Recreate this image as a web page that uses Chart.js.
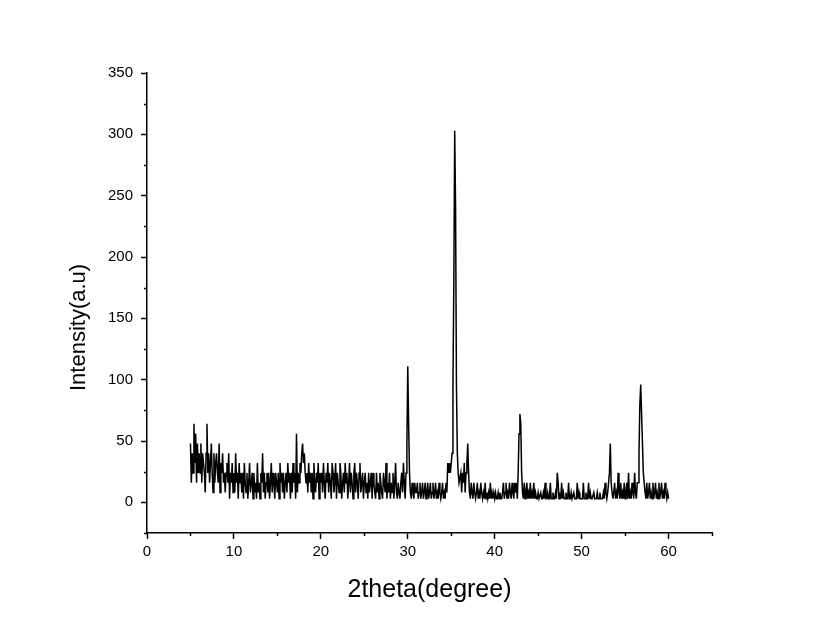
<!DOCTYPE html>
<html>
<head>
<meta charset="utf-8">
<script src="https://cdn.jsdelivr.net/npm/chart.js@4/dist/chart.umd.min.js"></script>
<style>
  html, body { margin: 0; padding: 0; background: #fff; }
  #wrap { width: 825px; height: 638px; }
</style>
</head>
<body>
<div id="wrap"><canvas id="xrd"></canvas></div>
<script>
// XRD scan: 5.0 -> 60.0 deg, step 0.1 deg
const scanStart = 5.0;
const scanStep = 0.1;

// intensity, one row per degree (5.x, 6.x, ... 59.x, 60.0)
const intensity = [
  48,16,40,24,64,32,56,16,48,24,
  40,24,48,16,40,32,24,8,40,64,
  24,40,16,32,48,24,8,40,16,32,
  40,24,16,48,8,32,24,40,16,24,
  8,24,32,16,40,3,24,16,32,8,
  24,8,40,16,24,3,32,16,24,8,
  24,3,32,16,8,24,3,16,32,8,
  16,24,3,24,8,16,3,32,8,16,
  3,24,16,40,8,24,3,16,24,8,
  24,3,16,32,8,24,16,3,24,16,
  8,24,3,32,16,24,8,24,3,16,
  24,8,32,16,24,3,24,8,32,16,
  24,3,56,8,24,16,32,24,40,48,
  32,40,24,16,24,8,32,16,24,8,
  24,3,32,16,8,24,16,32,3,24,
  16,24,8,32,16,3,24,16,32,8,
  24,16,3,32,24,8,16,32,3,24,
  16,8,32,24,3,16,24,8,32,16,
  24,3,16,32,8,24,16,3,24,32,
  8,24,16,3,24,32,8,16,24,3,
  16,24,8,16,3,24,8,16,24,3,
  24,16,8,3,24,8,16,3,24,16,
  8,3,24,16,8,32,3,16,8,24,
  3,16,8,24,3,16,32,8,3,16,
  8,3,16,24,8,32,16,3,24,48,
  111,64,24,8,3,16,8,3,16,8,
  8,16,3,8,16,3,8,16,3,8,
  16,3,8,16,3,8,16,3,8,16,
  3,8,16,3,8,3,16,8,3,8,
  16,3,8,3,16,8,32,24,32,24,
  32,40,96,180,303,240,96,40,24,16,
  16,24,8,24,16,32,8,24,32,48,
  24,8,3,16,8,3,16,8,3,8,
  16,3,8,3,16,8,3,8,3,16,
  3,8,3,8,3,16,3,8,3,8,
  3,8,3,3,8,3,8,3,3,8,
  16,3,8,16,3,8,3,16,8,3,
  16,8,3,16,8,16,3,24,56,72,
  64,24,8,3,16,3,8,16,3,8,
  3,16,3,8,3,16,3,8,3,3,
  8,3,3,8,3,3,8,3,16,3,
  3,8,3,3,16,3,3,8,3,3,
  8,3,24,16,3,8,3,16,3,8,
  3,3,8,3,3,16,3,3,8,3,
  3,8,3,3,3,16,3,8,3,3,
  3,3,16,3,3,8,3,3,16,3,
  8,3,3,3,8,3,3,3,8,3,
  3,8,3,3,3,8,3,16,8,3,
  8,16,24,48,16,8,3,8,16,3,
  8,3,24,8,3,16,3,8,3,16,
  3,8,16,3,24,3,8,3,16,8,
  3,24,8,3,16,16,40,80,96,72,
  48,24,16,8,3,16,3,8,16,3,
  8,3,16,3,8,16,3,8,3,16,
  3,8,16,3,8,3,16,8,3,8,
  3
];

const xMajorTicks = [0, 10, 20, 30, 40, 50, 60];
const xMinorTicks = [5, 15, 25, 35, 45, 55, 65];
const yMajorTicks = [0, 50, 100, 150, 200, 250, 300, 350];
const yMinorTicks = [-25, 25, 75, 125, 175, 225, 275, 325];

const points = intensity.map((v, i) => ({
  x: Number((scanStart + i * scanStep).toFixed(1)),
  y: v
}));

// short outward ticks at the half steps
const minorTicks = {
  id: "minorTicks",
  afterDraw(chart) {
    const { ctx, scales } = chart;
    const xs = scales.x;
    const ys = scales.y;
    ctx.save();
    ctx.strokeStyle = "#000";
    ctx.lineWidth = 1.5;
    ctx.beginPath();
    xMinorTicks.forEach((v) => {
      const px = Math.round(xs.getPixelForValue(v)) + 0.5;
      ctx.moveTo(px, xs.top);
      ctx.lineTo(px, xs.top + 3);
    });
    yMinorTicks.forEach((v) => {
      const py = Math.round(ys.getPixelForValue(v)) + 0.5;
      ctx.moveTo(ys.right, py);
      ctx.lineTo(ys.right - 3, py);
    });
    ctx.stroke();
    ctx.restore();
  }
};

const font = "'Liberation Sans', Arial, sans-serif";

new Chart(document.getElementById("xrd"), {
  type: "line",
  data: {
    datasets: [
      {
        label: "XRD",
        data: points,
        borderColor: "#000",
        borderWidth: 1.5,
        pointRadius: 0,
        tension: 0,
        fill: false
      }
    ]
  },
  options: {
    responsive: true,
    maintainAspectRatio: false,
    animation: false,
    layout: { padding: { left: 0, top: 73, right: 113, bottom: 0 } },
    plugins: {
      legend: { display: false },
      tooltip: { enabled: false }
    },
    scales: {
      x: {
        type: "linear",
        min: 0,
        max: 65,
        afterBuildTicks: (scale) => {
          scale.ticks = xMajorTicks.map((v) => ({ value: v }));
        },
        afterFit: (scale) => {
          scale.height = 105;
        },
        border: { display: true, color: "#000", width: 1.5 },
        grid: {
          drawOnChartArea: false,
          drawTicks: true,
          tickLength: 6,
          tickWidth: 1.5,
          tickColor: "#000"
        },
        ticks: {
          color: "#000",
          padding: 4,
          maxRotation: 0,
          font: { family: font, size: 15 }
        },
        title: {
          display: true,
          text: "2theta(degree)",
          color: "#000",
          font: { family: font, size: 25 },
          padding: { top: 4, bottom: 33 }
        }
      },
      y: {
        type: "linear",
        min: -25,
        max: 350,
        afterBuildTicks: (scale) => {
          scale.ticks = yMajorTicks.map((v) => ({ value: v }));
        },
        afterFit: (scale) => {
          scale.width = 147;
        },
        border: { display: true, color: "#000", width: 1.5 },
        grid: {
          drawOnChartArea: false,
          drawTicks: true,
          tickLength: 6,
          tickWidth: 1.5,
          tickColor: "#000"
        },
        ticks: {
          color: "#000",
          padding: 8,
          font: { family: font, size: 15 }
        },
        title: {
          display: true,
          // trailing spaces push the rotated label a little lower, as in the original
          text: "Intensity(a.u)        ",
          color: "#000",
          font: { family: font, size: 22 },
          padding: { top: 66, bottom: 0 }
        }
      }
    }
  },
  plugins: [minorTicks]
});
</script>
</body>
</html>
